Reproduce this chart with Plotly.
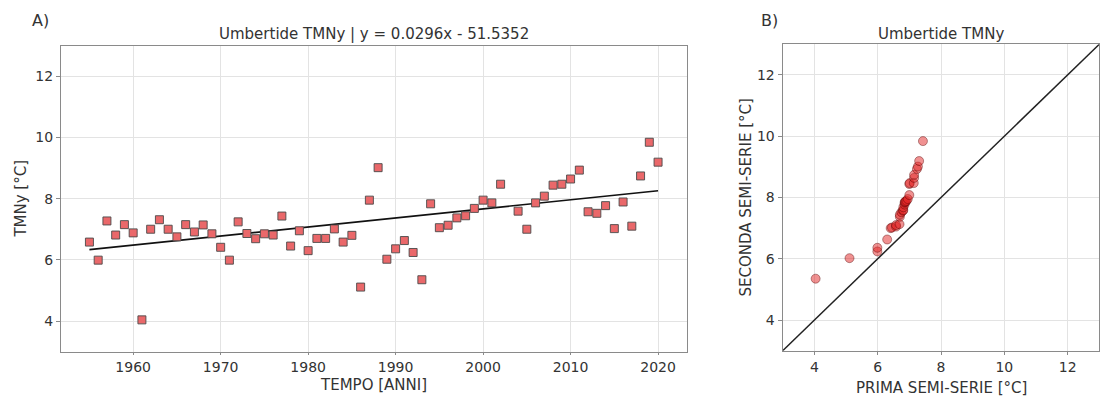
import plotly.graph_objects as go

# Annual mean minimum temperature (TMNy) at Umbertide, 1955-2020 (2003 missing)
years = [1955, 1956, 1957, 1958, 1959, 1960, 1961, 1962, 1963, 1964,
         1965, 1966, 1967, 1968, 1969, 1970, 1971, 1972, 1973, 1974,
         1975, 1976, 1977, 1978, 1979, 1980, 1981, 1982, 1983, 1984,
         1985, 1986, 1987, 1988, 1989, 1990, 1991, 1992, 1993, 1994,
         1995, 1996, 1997, 1998, 1999, 2000, 2001, 2002, 2004, 2005,
         2006, 2007, 2008, 2009, 2010, 2011, 2012, 2013, 2014, 2015,
         2016, 2017, 2018, 2019, 2020]
tmny = [6.58, 5.99, 7.27, 6.81, 7.15, 6.88, 4.04, 7.00, 7.31, 7.00,
        6.75, 7.15, 6.91, 7.14, 6.85, 6.41, 5.99, 7.24, 6.86, 6.69,
        6.85, 6.81, 7.43, 6.45, 6.95, 6.30, 6.70, 6.70, 7.01, 6.58,
        6.80, 5.11, 7.95, 9.01, 6.02, 6.36, 6.63, 6.24, 5.35, 7.83,
        7.05, 7.13, 7.37, 7.44, 7.68, 7.95, 7.86, 8.47, 7.59, 7.00,
        7.86, 8.08, 8.44, 8.47, 8.64, 8.93, 7.57, 7.52, 7.77, 7.02,
        7.89, 7.10, 8.74, 9.84, 9.19]

# Linear trend stated in the title
slope = 0.0296
intercept = -51.5352

x_ticks_a = [1960, 1970, 1980, 1990, 2000, 2010, 2020]
temp_ticks = [4, 6, 8, 10, 12]
x_range_a = [1951.75, 2023.25]
temp_range = [3, 13]

# Quantile-quantile comparison of the two half-series
half = len(tmny) // 2
prima = sorted(tmny[:half])
seconda = sorted(tmny[-half:])

W, H = 1100, 399


def px_x(p):
    return p / W


def px_y(p):
    return 1 - p / H


FONT = "DejaVu Sans"
TXT = "#333333"
SPINE = "#8a8a8a"
GRID = "#e3e3e3"

fig = go.Figure()

trend_x = [years[0], years[-1]]
trend_y = [slope * x + intercept for x in trend_x]

fig.add_trace(go.Scatter(
    x=trend_x, y=trend_y, mode="lines",
    line=dict(color="#111111", width=1.6),
    xaxis="x", yaxis="y", showlegend=False, hoverinfo="skip"))
fig.add_trace(go.Scatter(
    x=years, y=tmny, mode="markers",
    marker=dict(symbol="square", size=8, color="rgb(234,104,106)",
                line=dict(color="#4a4a4a", width=0.9)),
    xaxis="x", yaxis="y", showlegend=False))

fig.add_trace(go.Scatter(
    x=temp_range, y=temp_range, mode="lines",
    line=dict(color="#222222", width=1.5),
    xaxis="x2", yaxis="y2", showlegend=False, hoverinfo="skip"))
fig.add_trace(go.Scatter(
    x=prima, y=seconda, mode="markers",
    marker=dict(symbol="circle", size=9, color="rgba(225,35,35,0.5)",
                line=dict(color="rgba(80,0,0,0.4)", width=1)),
    xaxis="x2", yaxis="y2", showlegend=False))

axis_common = dict(
    showline=True, mirror=True, linecolor=SPINE, linewidth=1.3,
    showgrid=True, gridcolor=GRID, gridwidth=1,
    zeroline=False, ticks="outside", tickcolor=SPINE,
    tickfont=dict(family=FONT, size=14, color=TXT),
)

fig.update_layout(
    width=W, height=H,
    margin=dict(l=0, r=0, t=0, b=0),
    paper_bgcolor="white", plot_bgcolor="white",
    xaxis=dict(domain=[px_x(61), px_x(686.5)], range=x_range_a,
               tickvals=x_ticks_a, anchor="y", ticklen=2, **axis_common),
    yaxis=dict(domain=[px_y(351.7), px_y(45.5)], range=temp_range,
               tickvals=temp_ticks, anchor="x", ticklen=4, **axis_common),
    xaxis2=dict(domain=[px_x(782.7), px_x(1099.3)], range=temp_range,
                tickvals=temp_ticks, anchor="y2", ticklen=3, **axis_common),
    yaxis2=dict(domain=[px_y(350.7), px_y(44.3)], range=temp_range,
                tickvals=temp_ticks, anchor="x2", ticklen=4, **axis_common),
)


def label(text, x, y, size=15, angle=0):
    fig.add_annotation(
        text=text, x=px_x(x), y=px_y(y), xref="paper", yref="paper",
        xanchor="center", yanchor="middle", showarrow=False, textangle=angle,
        font=dict(family=FONT, size=size, color=TXT))


label("A)", 40, 20, size=16)
label("B)", 769, 20, size=16)
label("Umbertide TMNy | y = 0.0296x - 51.5352", 373.8, 34)
label("Umbertide TMNy", 941, 34)
label("TEMPO [ANNI]", 373.8, 384.5)
label("PRIMA SEMI-SERIE [°C]", 941, 387.5)
label("TMNy [°C]", 21, 198.6, angle=-90)
label("SECONDA SEMI-SERIE [°C]", 745, 197.5, angle=-90)

fig.write_html("out.html")
